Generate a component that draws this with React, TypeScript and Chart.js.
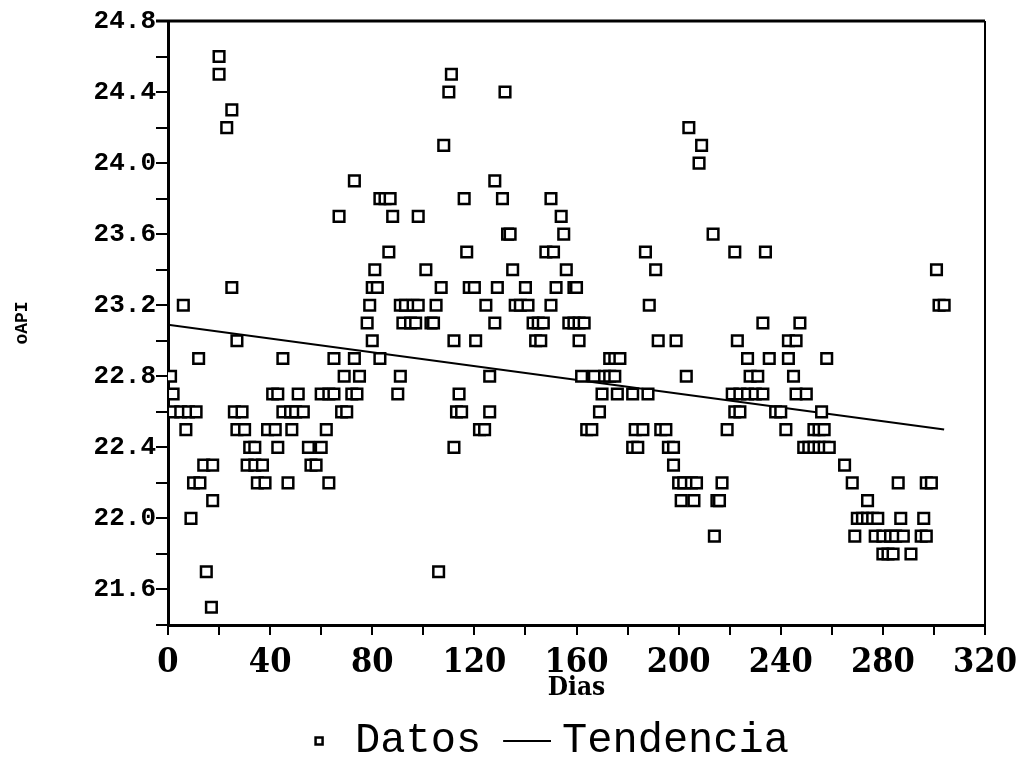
import React, { useEffect, useRef } from "react";
import { Chart, registerables } from "chart.js";

Chart.register(...registerables);

// Data points (Dias, oAPI)
const dias: number[] = [
  1, 2, 2, 5, 8, 11, 6, 7, 9, 10, 12.5, 12, 14, 17.5, 15, 17, 17.5,
  20, 20, 23, 25, 25, 27, 26, 29, 27, 30, 31, 34, 37, 32, 34, 35, 38,
  39, 42, 41, 43, 43, 45, 45, 48, 50, 53, 47, 48.5, 51, 56, 58, 55, 60,
  62, 60, 63, 65, 63, 65, 67, 68, 70, 69, 72, 74, 73, 73, 75,
  78, 79, 80, 80, 81, 82, 83, 83, 85, 87, 86.5, 88, 90, 91, 91, 93, 96, 98,
  92, 95, 97, 98, 101, 103, 104, 105, 106, 108, 107, 110, 111, 112, 112,
  113, 115, 114, 116, 117, 118, 120, 120.5, 122, 124, 124.5, 126, 126,
  128, 128, 129, 131, 132, 133, 134, 135, 136, 138, 140, 141, 143, 145, 147,
  144, 146, 148, 150, 150, 151, 152, 154, 155, 156, 157, 159, 161, 163,
  159, 160, 161, 162, 164, 166, 167, 169, 170, 171, 173, 175, 173, 175, 177,
  176, 182, 184, 182, 183, 186, 187, 188, 188.5, 191, 192, 193, 195, 196,
  198, 198, 199, 200, 202, 201, 203, 204, 205, 207, 206, 208, 209, 213.5,
  214, 215, 216, 217, 219, 221, 224, 227, 230, 233, 223, 222, 222, 224,
  227, 228, 231, 233, 234, 235.5, 238, 240, 242, 243, 243, 246, 245, 246,
  247.5, 250, 249, 251, 253, 255, 257, 259, 253, 255, 257, 256, 258,
  265, 268, 269, 270, 272, 274, 276, 278, 274, 277, 280, 283, 285, 288,
  280, 282, 284, 286, 287, 291, 295, 297, 296, 297, 299, 301, 302, 304,
];

const api: number[] = [
  22.8, 22.7, 22.6, 22.6, 22.6, 22.6, 23.2, 22.5, 22.0, 22.2, 22.2, 22.9, 22.3, 22.3, 21.7, 21.5, 22.1,
  24.6, 24.5, 24.2, 24.3, 23.3, 23.0, 22.6, 22.6, 22.5, 22.5, 22.3, 22.3, 22.3, 22.4, 22.4, 22.2, 22.2,
  22.5, 22.5, 22.7, 22.7, 22.4, 22.9, 22.6, 22.6, 22.6, 22.6, 22.2, 22.5, 22.7, 22.3, 22.3, 22.4, 22.4,
  22.5, 22.7, 22.7, 22.7, 22.2, 22.9, 23.7, 22.6, 22.6, 22.8, 22.7, 22.7, 22.9, 23.9, 22.8,
  23.1, 23.2, 23.3, 23.0, 23.4, 23.3, 22.9, 23.8, 23.8, 23.8, 23.5, 23.7, 22.7, 22.8, 23.2, 23.2, 23.2, 23.2,
  23.1, 23.1, 23.1, 23.7, 23.4, 23.1, 23.1, 23.2, 21.7, 24.1, 23.3, 24.4, 24.5, 23.0, 22.4,
  22.6, 22.6, 22.7, 23.8, 23.5, 23.3, 23.3, 23.0, 22.5, 22.5, 23.2, 22.8, 22.6,
  23.9, 23.1, 23.3, 23.8, 24.4, 23.6, 23.6, 23.4, 23.2, 23.2, 23.3, 23.2, 23.1, 23.1, 23.1,
  23.0, 23.0, 23.5, 23.8, 23.2, 23.5, 23.3, 23.7, 23.6, 23.4, 23.1, 23.1, 23.1, 23.1,
  23.3, 23.3, 23.0, 22.8, 22.5, 22.5, 22.8, 22.6, 22.7, 22.8, 22.8, 22.8, 22.9, 22.9, 22.9,
  22.7, 22.4, 22.4, 22.7, 22.5, 22.5, 23.5, 22.7, 23.2, 23.4, 23.0, 22.5, 22.5, 22.4,
  22.4, 22.3, 23.0, 22.2, 22.2, 22.1, 22.8, 24.2, 22.2, 22.2, 22.1, 24.0, 24.1, 23.6,
  21.9, 22.1, 22.1, 22.2, 22.5, 22.7, 22.7, 22.7, 22.7, 22.7, 23.0, 23.5, 22.6, 22.6,
  22.9, 22.8, 22.8, 23.1, 23.5, 22.9, 22.6, 22.6, 22.5, 22.9, 23.0, 23.0, 22.8, 22.7,
  23.1, 22.7, 22.4, 22.4, 22.4, 22.4, 22.4, 22.4, 22.5, 22.5, 22.5, 22.6, 22.9,
  22.3, 22.2, 21.9, 22.0, 22.0, 22.0, 22.0, 22.0, 22.1, 21.9, 21.9, 21.9, 21.9, 21.9,
  21.8, 21.8, 21.8, 22.2, 22.0, 21.8, 21.9, 21.9, 22.0, 22.2, 22.2, 23.4, 23.2, 23.2,
];

// Trend line (Tendencia)
const trendDias: number[] = [0, 304];
const trendApi: number[] = [23.09, 22.5];

const seriesNames: string[] = ["Datos", "Tendencia"];
const xTitle = "Dias";
const yTitle = "oAPI";

const tickFont = "'DejaVu Serif Condensed', 'DejaVu Serif', serif";
const monoFont = "'Liberation Mono', 'DejaVu Sans Mono', monospace";

const framePlugin = {
  id: "frame",
  afterLayout(chart: any) {
    // nudge the legend row left, as in the reference
    if (chart.legend) {
      chart.legend.left -= 30;
      chart.legend.right -= 30;
    }
  },
  afterDraw(chart: any) {
    const { ctx, chartArea } = chart;
    const { left, right, top, bottom } = chartArea;
    ctx.save();
    ctx.strokeStyle = "#000";
    ctx.lineWidth = 3;
    ctx.beginPath();
    ctx.moveTo(left - 12, top);
    ctx.lineTo(right, top);
    ctx.stroke();
    ctx.lineWidth = 2;
    ctx.beginPath();
    ctx.moveTo(right, top);
    ctx.lineTo(right, bottom);
    ctx.stroke();
    ctx.restore();
  },
};

function makeLegendLine(): HTMLCanvasElement {
  const c = document.createElement("canvas");
  c.width = 50;
  c.height = 4;
  const g = c.getContext("2d");
  if (g) {
    g.fillStyle = "#000";
    g.fillRect(2, 1, 48, 2);
  }
  return c;
}

export default function App() {
  const ref = useRef<HTMLCanvasElement | null>(null);

  useEffect(() => {
    document.body.style.margin = "0";
    const canvas = ref.current;
    if (!canvas) return;
    const points = dias.map((d, i) => ({ x: d, y: api[i] }));
    const trend = trendDias.map((d, i) => ({ x: d, y: trendApi[i] }));
    const legendLine = makeLegendLine();

    const chart = new Chart(canvas, {
      type: "scatter",
      data: {
        datasets: [
          {
            type: "scatter",
            label: seriesNames[0],
            data: points,
            pointStyle: "rect",
            pointRadius: 7.5,
            pointHoverRadius: 7.5,
            borderWidth: 2.5,
            borderColor: "#000",
            backgroundColor: "#fff",
          },
          {
            type: "line",
            label: seriesNames[1],
            data: trend,
            borderColor: "#000",
            backgroundColor: "#000",
            borderWidth: 2,
            pointRadius: 0,
            pointHoverRadius: 0,
            pointStyle: legendLine,
            fill: false,
          },
        ],
      } as any,
      options: {
        animation: false,
        responsive: false,
        layout: { padding: { top: 21, right: 40, left: 0, bottom: -14 } },
        plugins: {
          tooltip: { enabled: false },
          legend: {
            position: "bottom",
            fullSize: false,
            labels: {
              usePointStyle: true,
              boxWidth: 30,
              boxHeight: 7,
              padding: 30,
              color: "#000",
              font: { family: monoFont, size: 42 },
            },
          },
        },
        scales: {
          x: {
            type: "linear",
            min: 0,
            max: 320,
            afterFit: (scale: any) => {
              scale.height = 65;
            },
            ticks: {
              stepSize: 20,
              autoSkip: false,
              maxRotation: 0,
              color: "#000",
              padding: 8,
              font: { family: tickFont, size: 34, weight: "bold" },
              callback: (v: any) => (Number(v) % 40 === 0 ? String(v) : ""),
            },
            grid: {
              drawOnChartArea: false,
              drawTicks: true,
              tickLength: 10,
              color: "#000",
              lineWidth: 2,
            },
            border: { color: "#000", width: 3 },
            title: {
              display: true,
              text: xTitle,
              color: "#000",
              padding: { top: 0, bottom: -14 },
              font: { family: tickFont, size: 26, weight: "bold" },
            },
          },
          y: {
            type: "linear",
            min: 21.4,
            max: 24.8,
            afterFit: (scale: any) => {
              scale.width = 168;
            },
            ticks: {
              stepSize: 0.2,
              autoSkip: false,
              color: "#000",
              padding: 0,
              font: { family: monoFont, size: 26, weight: "bold" },
              callback: (v: any) => {
                const k = Math.round(Number(v) * 10);
                return k >= 216 && (k - 216) % 4 === 0 ? (k / 10).toFixed(1) : "";
              },
            },
            grid: {
              drawOnChartArea: false,
              drawTicks: true,
              tickLength: 12,
              color: "#000",
              lineWidth: 2,
            },
            border: { color: "#000", width: 3 },
            title: {
              display: true,
              text: yTitle,
              color: "#000",
              padding: { top: 12, bottom: 0 },
              font: { family: monoFont, size: 18, weight: "bold" },
            },
          },
        },
      } as any,
      plugins: [framePlugin],
    });
    return () => chart.destroy();
  }, []);

  return (
    <div style={{ width: 1025, height: 758, background: "#fff" }}>
      <canvas ref={ref} width={1025} height={758} />
    </div>
  );
}
